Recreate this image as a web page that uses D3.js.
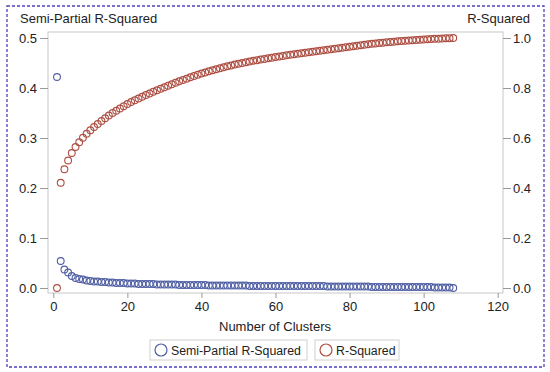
<!DOCTYPE html>
<html>
<head>
<meta charset="utf-8">
<script src="https://cdn.jsdelivr.net/npm/d3@7"></script>
<style>
  body { margin: 0; background: #fff; }
  text { font-family: "Liberation Sans", Arial, sans-serif; }
</style>
</head>
<body>
<svg id="chart" width="550" height="372"></svg>
<script>
// number of clusters 1..108
var clusters = d3.range(1, 109);

// semi-partial R-squared (left axis)
var sprsq = [
  0.422, 0.054, 0.037, 0.031, 0.024, 0.020, 0.018, 0.017, 0.015, 0.014,
  0.013, 0.013, 0.012, 0.012, 0.011, 0.011, 0.010, 0.010, 0.010, 0.009,
  0.009, 0.009, 0.008, 0.008, 0.008, 0.008, 0.008, 0.007, 0.007, 0.007,
  0.007, 0.007, 0.007, 0.006, 0.006, 0.006, 0.006, 0.006, 0.006, 0.006,
  0.006, 0.005, 0.005, 0.005, 0.005, 0.005, 0.005, 0.005, 0.005, 0.005,
  0.005, 0.005, 0.004, 0.004, 0.004, 0.004, 0.004, 0.004, 0.004, 0.004,
  0.004, 0.004, 0.004, 0.004, 0.004, 0.004, 0.004, 0.004, 0.004, 0.004,
  0.004, 0.004, 0.004, 0.003, 0.003, 0.003, 0.003, 0.003, 0.003, 0.003,
  0.003, 0.003, 0.003, 0.003, 0.003, 0.002, 0.002, 0.002, 0.002, 0.002,
  0.002, 0.002, 0.002, 0.002, 0.002, 0.002, 0.002, 0.002, 0.002, 0.002,
  0.002, 0.002, 0.001, 0.001, 0.001, 0.001, 0.001, 0.000
];

// R-squared (right axis)
var rsq = [
  0.000, 0.421, 0.475, 0.510, 0.540, 0.564, 0.583, 0.601, 0.617, 0.631,
  0.644, 0.656, 0.668, 0.679, 0.690, 0.700, 0.709, 0.718, 0.727, 0.736,
  0.744, 0.751, 0.758, 0.765, 0.772, 0.778, 0.785, 0.791, 0.797, 0.803,
  0.809, 0.815, 0.821, 0.827, 0.832, 0.837, 0.843, 0.848, 0.853, 0.858,
  0.862, 0.867, 0.871, 0.875, 0.879, 0.883, 0.887, 0.890, 0.894, 0.897,
  0.900, 0.903, 0.906, 0.909, 0.911, 0.914, 0.916, 0.919, 0.921, 0.924,
  0.926, 0.928, 0.931, 0.933, 0.935, 0.937, 0.939, 0.941, 0.943, 0.945,
  0.947, 0.949, 0.951, 0.953, 0.955, 0.957, 0.959, 0.961, 0.963, 0.965,
  0.967, 0.969, 0.971, 0.973, 0.975, 0.977, 0.978, 0.980, 0.981, 0.983,
  0.984, 0.985, 0.987, 0.988, 0.989, 0.990, 0.991, 0.992, 0.993, 0.994,
  0.995, 0.996, 0.997, 0.997, 0.998, 0.999, 0.999, 1.000
];

var xTicks = [0, 20, 40, 60, 80, 100, 120];
var leftTicks = [0.0, 0.1, 0.2, 0.3, 0.4, 0.5];
var rightTicks = [0.0, 0.2, 0.4, 0.6, 0.8, 1.0];
var seriesNames = ["Semi-Partial R-Squared", "R-Squared"];

var blue = "#4f5ea3", red = "#ad4f43", grid = "#c8c8c8", ink = "#222";

var svg = d3.select("#chart");

// outer dashed frame
svg.append("rect")
  .attr("x", 7).attr("y", 6).attr("width", 537).attr("height", 361)
  .attr("fill", "none").attr("stroke", "#4b3fbf")
  .attr("stroke-width", 1.3).attr("stroke-dasharray", "3,2");

var plot = { left: 48, right: 503, top: 32, bottom: 293 };

var x = d3.scaleLinear().domain([0, 120]).range([53.3, 497.7]);
var yL = d3.scaleLinear().domain([0, 0.5]).range([288, 38]);
var yR = d3.scaleLinear().domain([0, 1]).range([288, 38]);

// plot frame
svg.append("rect")
  .attr("x", plot.left).attr("y", plot.top)
  .attr("width", plot.right - plot.left).attr("height", plot.bottom - plot.top)
  .attr("fill", "none").attr("stroke", grid);

function styleAxis(g) {
  g.select(".domain").remove();
  g.selectAll(".tick line").attr("stroke", "#999");
  g.selectAll(".tick text").attr("fill", ink).style("font-size", "13px");
}

svg.append("g")
  .attr("transform", "translate(0," + plot.bottom + ")")
  .call(d3.axisBottom(x).tickValues(xTicks).tickSize(5).tickPadding(4))
  .call(styleAxis);

svg.append("g")
  .attr("transform", "translate(" + plot.left + ",0)")
  .call(d3.axisLeft(yL).tickValues(leftTicks).tickFormat(d3.format(".1f")).tickSize(8).tickPadding(3))
  .call(styleAxis);

svg.append("g")
  .attr("transform", "translate(" + plot.right + ",0)")
  .call(d3.axisRight(yR).tickValues(rightTicks).tickFormat(d3.format(".1f")).tickSize(8).tickPadding(2))
  .call(styleAxis);

// axis titles
svg.append("text").attr("x", 20).attr("y", 23)
  .style("font-size", "13px").attr("fill", ink).text(seriesNames[0]);
svg.append("text").attr("x", 530).attr("y", 23).attr("text-anchor", "end")
  .style("font-size", "13px").attr("fill", ink).text(seriesNames[1]);
svg.append("text").attr("x", 275).attr("y", 331).attr("text-anchor", "middle")
  .style("font-size", "13px").attr("fill", ink).text("Number of Clusters");

// markers
svg.append("g").selectAll("circle")
  .data(clusters)
  .enter().append("circle")
  .attr("cx", function(d) { return x(d); })
  .attr("cy", function(d, i) { return yR(rsq[i]); })
  .attr("r", 3.4)
  .attr("fill", "none").attr("stroke", red).attr("stroke-width", 1.1);

svg.append("g").selectAll("circle")
  .data(clusters)
  .enter().append("circle")
  .attr("cx", function(d) { return x(d); })
  .attr("cy", function(d, i) { return yL(sprsq[i]); })
  .attr("r", 3.4)
  .attr("fill", "none").attr("stroke", blue).attr("stroke-width", 1.1);

// legend
var legend = [
  { name: seriesNames[0], color: blue, x0: 150, w: 157 },
  { name: seriesNames[1], color: red, x0: 315, w: 84 }
];
var lg = svg.append("g").selectAll("g")
  .data(legend)
  .enter().append("g")
  .attr("transform", function(d) { return "translate(" + d.x0 + ",340)"; });
lg.append("rect")
  .attr("width", function(d) { return d.w; }).attr("height", 20)
  .attr("fill", "#fff").attr("stroke", "#d0d0d0");
lg.append("circle")
  .attr("cx", 11).attr("cy", 10).attr("r", 6)
  .attr("fill", "none").attr("stroke", function(d) { return d.color; }).attr("stroke-width", 1.2);
lg.append("text")
  .attr("x", 21).attr("y", 15)
  .style("font-size", "12.3px").attr("fill", ink)
  .text(function(d) { return d.name; });
</script>
</body>
</html>
